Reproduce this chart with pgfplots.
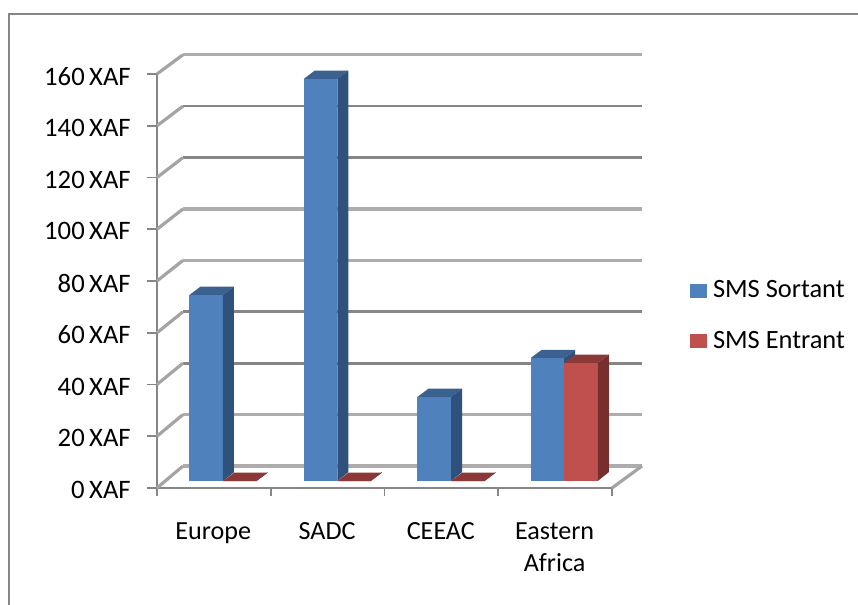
\documentclass[border=0pt]{standalone}
\usepackage{pgfplots}
\pgfplotsset{compat=1.18}
\usepackage{fontspec}
\setmainfont{Carlito}
\definecolor{bluefront}{HTML}{4F81BD}
\definecolor{blueside}{HTML}{2F527C}
\definecolor{bluetop}{HTML}{3A6190}
\definecolor{redfront}{HTML}{C0504D}
\definecolor{redside}{HTML}{772F2D}
\definecolor{redtop}{HTML}{8C3836}
\definecolor{griddark}{HTML}{868686}
\definecolor{gridlight}{HTML}{ADADAD}
\definecolor{diag}{HTML}{A4A4A4}
\newcommand{\threedbar}[5]{%
  \pgfmathsetmacro\xa{#1}%
  \pgfmathsetmacro\xb{#1+0.295}%
  \pgfmathsetmacro\xc{#1+0.295+0.0967}%
  \pgfmathsetmacro\xd{#1+0.0967}%
  \pgfmathsetmacro\ya{2.7}%
  \pgfmathsetmacro\yb{2.7+#2}%
  \pgfmathsetmacro\yc{2.7+#2+3.2}%
  \pgfmathsetmacro\ye{2.7+3.4}%
  \addplot[draw=none,fill=#4,forget plot] coordinates {(\xa,\yb)(\xb,\yb)(\xc,\yc)(\xd,\yc)};
  \addplot[draw=none,fill=#3,forget plot] coordinates {(\xa,\ya)(\xb,\ya)(\xb,\yb)(\xa,\yb)};
  \addplot[draw=none,fill=#5,forget plot] coordinates {(\xb,\ya)(\xc,\ye)(\xc,\yc)(\xb,\yb)};
}
\newcommand{\gridline}[2]{\addplot[#2,forget plot] coordinates {(0.2286,#1)(4.264,#1)};}
\begin{document}
\begin{tikzpicture}[x=0.75pt,y=0.75pt]
\useasboundingbox (-157,-117) rectangle (701,488);
\draw[color=griddark,line width=1.5pt] (-148,-117) -- (-148,474) -- (701,474);
\begin{axis}[
  at={(0,0)},anchor=south west,
  scale only axis,
  width=341.25pt,height=310.5pt,
  xmin=0,xmax=4,ymin=0,ymax=160,
  clip=false,
  axis x line*=bottom,axis y line*=left,
  axis line style={color=griddark,line width=2pt,-},
  tick style={color=griddark,line width=1.4pt},
  ytick={0,20,...,160},
  yticklabel={\pgfmathprintnumber[assume math mode=true]{\tick}\,XAF},
  xtick={0.5,1.5,2.5,3.5},
  xticklabels={Europe,SADC,CEEAC,{Eastern\\Africa}},
  minor xtick={0,1,2,3,4},
  major x tick style={draw=none},
  minor tick length=6pt,
  major tick length=7.5pt,
  tick align=outside,
  xtick pos=bottom,ytick pos=left,
  yticklabel style={font=\fontsize{20}{24}\selectfont,inner sep=0pt,xshift=-12pt,yshift=-1.6pt},
  xticklabel style={font=\fontsize{19.6}{24}\selectfont,align=center,inner sep=0pt,yshift=-18pt,xshift=-0.4pt},
  legend style={draw=none,fill=none,at={(1.171,0.508)},anchor=north west,
    font=\fontsize{19.8}{24}\selectfont,row sep=19.5pt,inner sep=0pt,
    /tikz/every odd column/.append style={column sep=2.2pt}},
  legend cell align=left,
  legend image code/.code={\fill[#1] (0pt,-5.5pt) rectangle (13pt,5pt);},
]
% back wall gridlines
\gridline{8.5}{color=gridlight,line width=2.6pt}
\gridline{28.37}{color=gridlight,line width=2.6pt}
\gridline{48.24}{color=griddark,line width=2pt}
\gridline{68.1}{color=griddark,line width=2pt}
\gridline{87.97}{color=gridlight,line width=2.6pt}
\gridline{107.84}{color=gridlight,line width=2.6pt}
\gridline{127.7}{color=griddark,line width=2pt}
\gridline{147.57}{color=griddark,line width=2pt}
\gridline{167.44}{color=gridlight,line width=2.6pt}
% side wall
\addplot[diag,line width=2.4pt,forget plot] coordinates {(0,0)(0.2286,8.5)};
\addplot[diag,line width=2.4pt,forget plot] coordinates {(0,20)(0.2286,28.37)};
\addplot[diag,line width=2.4pt,forget plot] coordinates {(0,40)(0.2286,48.24)};
\addplot[diag,line width=2.4pt,forget plot] coordinates {(0,60)(0.2286,68.1)};
\addplot[diag,line width=2.4pt,forget plot] coordinates {(0,80)(0.2286,87.97)};
\addplot[diag,line width=2.4pt,forget plot] coordinates {(0,100)(0.2286,107.84)};
\addplot[diag,line width=2.4pt,forget plot] coordinates {(0,120)(0.2286,127.7)};
\addplot[diag,line width=2.4pt,forget plot] coordinates {(0,140)(0.2286,147.57)};
\addplot[diag,line width=2.4pt,forget plot] coordinates {(0,160)(0.2286,167.44)};
\addplot[diag,line width=2.4pt,forget plot] coordinates {(4,0)(4.264,8.5)};
% bars: left edge, value
\threedbar{0.285}{71.9}{bluefront}{bluetop}{blueside}
\threedbar{0.58}{0}{redfront}{redtop}{redside}
\threedbar{1.29}{155.4}{bluefront}{bluetop}{blueside}
\threedbar{1.585}{0}{redfront}{redtop}{redside}
\threedbar{2.29}{32.5}{bluefront}{bluetop}{blueside}
\threedbar{2.585}{0}{redfront}{redtop}{redside}
\threedbar{3.285}{47.5}{bluefront}{bluetop}{blueside}
\threedbar{3.58}{45.6}{redfront}{redtop}{redside}
\addlegendimage{bluefront,fill=bluefront,draw=none}
\addlegendentry{SMS Sortant}
\addlegendimage{redfront,fill=redfront,draw=none}
\addlegendentry{SMS Entrant}
\end{axis}
\end{tikzpicture}
\end{document}
